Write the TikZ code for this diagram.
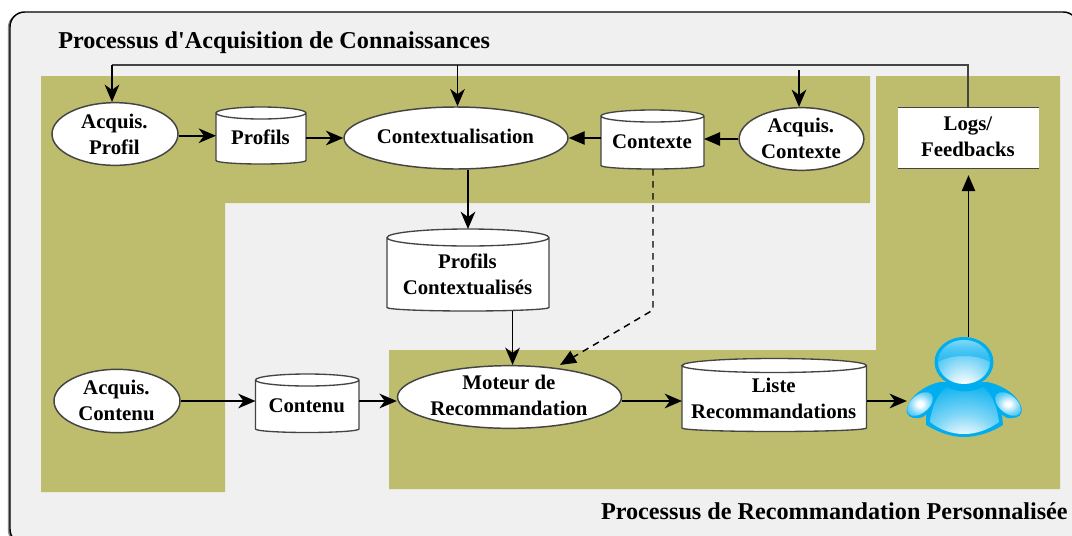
\documentclass[tikz,border=0pt]{standalone}
\usepackage{fontspec}
\usepackage{tikz}
\usetikzlibrary{shapes.geometric, arrows.meta, shadows}
\newfontfamily\labelfont{Liberation Serif}
\definecolor{olive}{HTML}{BEBD6E}
\definecolor{panel}{HTML}{F0F0F0}
\definecolor{edge}{HTML}{444444}
\definecolor{iconblue}{HTML}{00AEEF}
\pgfdeclareradialshading{bodyglow}{\pgfpoint{0bp}{-40bp}}{color(0bp)=(white); color(6bp)=(white); color(22bp)=(iconblue!50!white); color(40bp)=(iconblue!92!white); color(60bp)=(iconblue!80!white)}
\pgfdeclareradialshading{headglow}{\pgfpoint{0bp}{-42bp}}{color(0bp)=(white); color(8bp)=(white); color(24bp)=(iconblue!55!white); color(40bp)=(iconblue)}
\pgfdeclareradialshading{armglow}{\pgfpoint{0bp}{0bp}}{color(0bp)=(white); color(4bp)=(white); color(20bp)=(iconblue!55!white); color(40bp)=(iconblue)}
\pgfdeclareverticalshading{headshine}{100bp}{color(0bp)=(iconblue); color(55bp)=(iconblue!70!white); color(100bp)=(iconblue!25!white)}
\newcommand{\dbnode}[8]{
    \draw[dbshape] (#2,#3+#6/2) -- (#2,#5-3.5) arc[start angle=180, end angle=0, x radius={(#4-#2)/2}, y radius=3.5]
        -- (#4,#3+#6/2) arc[start angle=0, end angle=-180, x radius={(#4-#2)/2}, y radius={#6/2}]
        arc[start angle=180, end angle=0, x radius={(#4-#2)/2}, y radius={#6/2}];
    \node[inner sep=0pt, outer sep=0pt, minimum width={(#4-#2)*0.75pt}, minimum height={(#5-#3)*0.75pt}, label={[caption, yshift=-#8pt]center:{#7}}] (#1) at ({(#2+#4)/2},{(#3+#5)/2}) {};
}
\newcommand{\ovalnode}[7]{
    \node[main, minimum width=#4pt, minimum height=#5pt, label={[caption, yshift=#6pt]center:{#7}}] (#1) at (#2,#3) {};
}
\begin{document}
\begin{tikzpicture}[x=0.75pt, y=-0.75pt,
    main/.style = {draw=edge, line width=1.1pt, fill=white, ellipse, inner sep=0pt},
    dbshape/.style = {draw=edge, line width=1pt, fill=white},
    caption/.style = {inner sep=0pt, outer sep=0pt, xshift=-0.4pt, align=center, font=\labelfont\bfseries\fontsize{15.6}{19.5}\selectfont},
    heading/.style = {inner sep=0pt, font=\labelfont\bfseries\fontsize{18.15}{22}\selectfont},
    zone/.style = {fill=olive},
    flow/.style = {-{Stealth[length=13pt, width=11pt, inset=4pt]}, line width=1.2pt, black},
    solid tip/.style = {-{Triangle[length=12pt, width=10pt]}, line width=1.1pt, black}]

    \clip (0,0) rectangle (1072,536);
    \fill[white] (0,0) rectangle (1072,536);
    \draw[fill=panel, draw=black, line width=1.1pt, rounded corners=11pt, drop shadow={shadow xshift=-1.6pt, shadow yshift=-0.6pt, opacity=0.45, fill=black}] (10,12) rectangle (1078,544);

    \fill[zone] (41,76) -- (870,76) -- (870,203) -- (225,203) -- (225,492) -- (41,492) -- cycle;
    \fill[zone] (876,76) -- (1060,76) -- (1060,489) -- (389,489) -- (389,350) -- (876,350) -- cycle;

    \node[heading, anchor=west] (acqtitle) at (58,42.5) {Processus d'Acquisition de Connaissances};
    \node[heading, anchor=east] (rectitle) at (1068,511) {Processus de Recommandation Personnalisée};

    \ovalnode{acqprofil}{115}{134}{94.5}{47}{0}{Acquis.\\Profil}
    \ovalnode{context}{456}{138}{168}{46.5}{1.5}{Contextualisation}
    \ovalnode{acqcontexte}{801.5}{139}{93.5}{47}{0.75}{Acquis.\\Contexte}
    \ovalnode{acqcontenu}{117}{401}{94.5}{47.5}{0.75}{Acquis.\\Contenu}
    \ovalnode{moteur}{509.5}{397}{168}{47}{1.5}{Moteur de\\Recommandation}

    \dbnode{profils}{216}{107}{306}{164}{12}{Profils}{1.5}
    \dbnode{contexte}{601}{110}{704}{169}{12}{Contexte}{1.5}
    \dbnode{profilsctx}{387}{229}{549}{311}{17}{Profils\\Contextualisés}{3}
    \dbnode{contenu}{255.5}{374}{359}{432.5}{12}{Contenu}{1.5}
    \dbnode{liste}{682}{358.5}{866.5}{431.5}{14}{Liste\\Recommandations}{2.2}

    \fill[white] (898,107.5) rectangle (1039,168.5);
    \draw[edge, line width=1pt] (898,107.5) -- (1039,107.5) (898,168.5) -- (1039,168.5);
    \node[inner sep=0pt, outer sep=0pt, minimum width=105.75pt, minimum height=45.75pt, label={[caption, yshift=0.75pt]center:{Logs/\\Feedbacks}}] (logs) at (968.5,138) {};

    \fill[iconblue] (940,382) .. controls (925,385) and (910,396) .. (907,408) .. controls (905,416) and (912,419) .. (918,418) .. controls (922,418) and (925,416) .. (926,414) -- (926,425)
        .. controls (938,432) and (950,437) .. (964,437) .. controls (978,437) and (992,432) .. (1003,425) -- (1002,414)
        .. controls (1004,417) and (1008,419) .. (1012,418) .. controls (1018,418) and (1024,415) .. (1021,406) .. controls (1017,395) and (1003,385) .. (987,382) -- cycle;
    \shade[shading=bodyglow] (930,422) .. controls (932,405) and (938,393) .. (947,387) .. controls (958,393) and (972,393) .. (983,387) .. controls (991,393) and (997,405) .. (999,422) .. controls (988,430) and (976,434) .. (964,434) .. controls (952,434) and (940,430) .. (930,422) -- cycle;
    \shade[shading=armglow, rotate around={40:(920,404)}] (920,404) ellipse [x radius=15, y radius=9];
    \shade[shading=armglow, rotate around={-40:(1008,404)}] (1008,404) ellipse [x radius=15, y radius=9];
    \fill[iconblue] (964,362) ellipse [x radius=29.5, y radius=25];
    \shade[shading=headglow] (964,362) ellipse [x radius=26, y radius=22];
    \shade[shading=headshine] (938,362) arc[start angle=180, end angle=360, x radius=26, y radius=22] .. controls (978,354) and (950,354) .. (938,362) -- cycle;
    \node[inner sep=0pt, minimum width=86pt, minimum height=75pt] (user) at (964.5,387) {};

    \coordinate (topleft) at (112,65);
    \coordinate (topright) at (968,65);
    \coordinate (topmid) at (457.5,65);
    \coordinate (topctx) at (799,70);
    \coordinate (dashbend) at (653,310);

    \draw[line width=0.9pt, edge] (logs.north -| topright) -- (topright) -- (topleft);
    \draw[flow] (topleft) -- (topleft |- acqprofil.north);
    \draw[flow] (topmid) -- (topmid |- context.north);
    \draw[flow, line width=0.9pt] (topctx) -- (topctx |- acqcontexte.north);

    \draw[flow] ([yshift=-1.3pt]acqprofil.east) -- ([yshift=-1.3pt]acqprofil.east -| profils.west);
    \draw[flow] (profils.east |- context.west) -- (context.west);
    \draw[solid tip] (contexte.west |- context.east) -- (context.east);
    \draw[solid tip] (acqcontexte.west) -- (acqcontexte.west -| contexte.east);
    \draw[flow] (context.south -| profilsctx.north) -- (profilsctx.north);
    \draw[solid tip, dash pattern=on 5pt off 4pt] (contexte.south -| dashbend) -- (dashbend) -- (moteur.north -| 560,367);
    \draw[flow] ([xshift=2.3pt]profilsctx.south -| moteur.north) -- ([xshift=2.3pt]moteur.north);
    \draw[flow] (acqcontenu.east) -- (acqcontenu.east -| contenu.west);
    \draw[flow] (contenu.east |- acqcontenu.east) -- (moteur.west |- acqcontenu.east);
    \draw[flow] (moteur.east |- acqcontenu.east) -- (liste.west |- acqcontenu.east);
    \draw[flow] (liste.east |- acqcontenu.east) -- (user.west |- acqcontenu.east);
    \draw[solid tip] (user.north -| logs.south) -- ([yshift=-5pt]logs.south);
\end{tikzpicture}
\end{document}
